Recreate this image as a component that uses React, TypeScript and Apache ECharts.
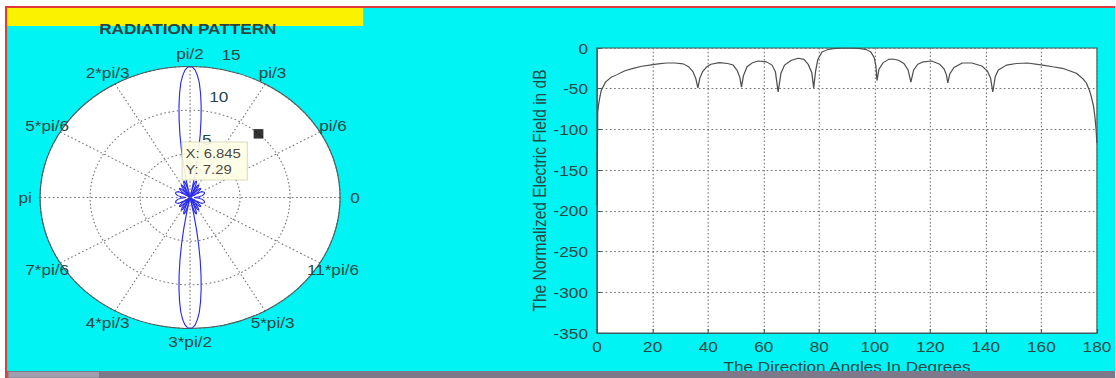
import React, { useEffect, useRef } from "react";
import * as echarts from "echarts";

// ---------- polar plot (radiation pattern) ----------
const angleTicks = [0, 30, 60, 90, 120, 150, 180, 210, 240, 270, 300, 330];
const angleTickLabels = ["0", "pi/6", "pi/3", "pi/2", "2*pi/3", "5*pi/6", "pi", "7*pi/6", "4*pi/3", "3*pi/2", "5*pi/3", "11*pi/6"];
const radiusTicks = [5, 10, 15];

// upper half of the pattern (angle in degrees, radius)
const patternUpperAngles = [
  0, 5, 10, 15, 20, 25, 30, 33, 35, 36, 37, 39, 42, 45, 48, 50, 51.5, 52, 52.5, 54, 56, 59, 62, 64, 65, 66, 68, 70, 72, 74, 76, 77.3, 78,
  79, 80, 81, 82, 83, 84, 85, 86, 87, 88, 89, 90, 91, 92, 93, 94, 95, 96, 97, 98, 99, 100, 101, 102,
  102.7, 104, 106, 108, 110, 112, 114, 115, 116, 118, 121, 124, 126, 127.5, 128, 128.5, 130, 132, 135, 138, 141, 143, 144, 145, 147, 150, 155, 160, 165, 170, 175, 180,
];
const patternUpperRadii = [
  0.4, 0.9, 1.25, 1.45, 1.55, 1.5, 1.3, 0.9, 0.45, 0.05, 0.5, 1.0, 1.4, 1.5, 1.3, 0.8, 0.35, 0.05, 0.35, 0.9, 1.45, 1.7, 1.5, 0.8, 0.05, 0.7, 1.45, 1.9, 2.0, 1.8, 1.2, 0.6, 0.05,
  1.8, 3.7, 5.5, 7.3, 9.0, 10.6, 12.0, 13.2, 14.0, 14.6, 14.9, 15, 14.9, 14.6, 14.0, 13.2, 12.0, 10.6, 9.0, 7.3, 5.5, 3.7, 1.8, 0.05,
  0.6, 1.2, 1.8, 2.0, 1.9, 1.45, 0.7, 0.05, 0.8, 1.5, 1.7, 1.45, 0.9, 0.35, 0.05, 0.35, 0.8, 1.3, 1.5, 1.4, 1.0, 0.5, 0.05, 0.45, 0.9, 1.3, 1.5, 1.55, 1.45, 1.25, 0.9, 0.4,
];
// lower half of the pattern
const patternLowerAngles = [
  185, 190, 195, 200, 205, 210, 213, 215, 216, 217, 219, 222, 225, 228, 230, 231.5, 232, 232.5, 234, 236, 239, 242, 244, 245, 246, 248, 250, 252, 254, 256, 257.3, 258,
  259, 260, 261, 262, 263, 264, 265, 266, 267, 268, 269, 270, 271, 272, 273, 274, 275, 276, 277, 278, 279, 280, 281, 282,
  282.7, 284, 286, 288, 290, 292, 294, 295, 296, 298, 301, 304, 306, 307.5, 308, 308.5, 310, 312, 315, 318, 321, 323, 324, 325, 327, 330, 335, 340, 345, 350, 355, 360,
];
const patternLowerRadii = [
  0.9, 1.25, 1.45, 1.55, 1.5, 1.3, 0.9, 0.45, 0.05, 0.5, 1.0, 1.4, 1.5, 1.3, 0.8, 0.35, 0.05, 0.35, 0.9, 1.45, 1.7, 1.5, 0.8, 0.05, 0.7, 1.45, 1.9, 2.0, 1.8, 1.2, 0.6, 0.05,
  1.8, 3.7, 5.5, 7.3, 9.0, 10.6, 12.0, 13.2, 14.0, 14.6, 14.9, 15, 14.9, 14.6, 14.0, 13.2, 12.0, 10.6, 9.0, 7.3, 5.5, 3.7, 1.8, 0.05,
  0.6, 1.2, 1.8, 2.0, 1.9, 1.45, 0.7, 0.05, 0.8, 1.5, 1.7, 1.45, 0.9, 0.35, 0.05, 0.35, 0.8, 1.3, 1.5, 1.4, 1.0, 0.5, 0.05, 0.45, 0.9, 1.3, 1.5, 1.55, 1.45, 1.25, 0.9, 0.4,
];

// data tip shown on the polar plot
const tipX = 6.845;
const tipY = 7.29;

// ---------- cartesian plot (normalized field in dB) ----------
const fieldAngles = [
  0, 0.2, 0.5, 1, 1.5, 3, 5, 7, 10, 13, 16, 19, 22, 25, 28, 31, 33, 34.5, 35.5, 36.3, 37, 38, 39.5, 41, 44, 47, 49, 50.5, 51.4, 52, 52.7, 54, 56, 58, 61, 63, 64.2, 65.2,
  66.2, 67.5, 70, 72.5, 74.5, 76, 77.3, 78, 78.7, 79.5, 81, 83, 85, 88, 90, 92, 95, 97, 98.6, 99.8, 100.4, 100.8, 101.5, 103, 105, 106.5, 108.5, 110.5, 112, 113, 114,
  115.5, 117.5, 120.5, 123.4, 125, 125.8, 126.3, 127, 128.5, 131.5, 135, 138.5, 140.5, 141.7, 142.5, 143.4, 144.5, 147.4, 151, 155, 160.5, 164, 167.6, 172.6, 175,
  176.2, 177.3, 178, 178.8, 179.3, 179.7, 180,
];
const fieldDb = [
  -193, -80, -70, -60, -52, -42, -36, -33, -28, -25, -22.5, -21, -19.5, -18.5, -18.5, -19.5, -23, -29, -37, -49, -37, -29, -23, -20, -18, -19, -21, -28, -36, -48, -34, -23, -18, -16, -17, -21, -29, -54,
  -31, -21, -15, -12.5, -14, -20, -30, -49, -28, -14, -5, -2, -0.8, -0.1, 0, -0.1, -0.8, -2, -5, -12, -22, -40, -26, -18, -14, -13.5, -15, -19, -27, -42, -27,
  -20, -17, -16, -20, -26, -33, -43, -32, -24, -18.5, -18.5, -22, -28, -37, -54, -35, -27, -21, -19, -18.5, -21, -23, -25, -31, -38,
  -43, -52, -60, -72, -85, -100, -117,
];

const SX = 1.145;
const W = 974;
const H = 378;

export default function App() {
  const ref = useRef<HTMLDivElement>(null);

  useEffect(() => {
    document.body.style.margin = "0";
    document.body.style.overflow = "hidden";
    const chart = echarts.init(ref.current as HTMLDivElement, null, { renderer: "svg" });
    const font = "'Liberation Sans', Arial, Helvetica, sans-serif";
    const textColor = "#244848";
    const axisColor = "#3e5c5c";
    const gridColor = "#767676";
    const dash = [1.5, 2.2];

    const patternData = patternUpperAngles
      .map((a, i) => [patternUpperRadii[i], a])
      .concat(patternLowerAngles.map((a, i) => [patternLowerRadii[i], a]));
    const tipR = Math.hypot(tipX, tipY);
    const tipAngle = (Math.atan2(tipY, tipX) * 180) / Math.PI;

    const staticGraphics: any[] = [
      { id: "wTop", type: "rect", z: 100, shape: { x: 0, y: 0, width: W, height: 6 }, style: { fill: "#ffffff" } },
      { id: "wLeft", type: "rect", z: 100, shape: { x: 0, y: 0, width: 4.4, height: H }, style: { fill: "#ffffff" } },
      { id: "rTop", type: "rect", z: 101, shape: { x: 4.4, y: 6, width: W, height: 2 }, style: { fill: "#e03b3b" } },
      { id: "rLeft", type: "rect", z: 101, shape: { x: 4.4, y: 6, width: 1.8, height: H }, style: { fill: "#e03b3b" } },
      { id: "yellow", type: "rect", z: 100, shape: { x: 6.2, y: 8, width: 311, height: 18 }, style: { fill: "#fbf200" } },
      {
        id: "title", type: "text", z: 102, x: 164, y: 28.5,
        style: { text: "RADIATION PATTERN", fill: "#2a4444", font: `bold 15px ${font}`, textAlign: "center", textVerticalAlign: "middle" },
      },
      { id: "bar", type: "rect", z: 100, shape: { x: 6.2, y: 371, width: W, height: 7 }, style: { fill: "#7d798b" } },
      { id: "thumb", type: "rect", z: 101, shape: { x: 7, y: 371.5, width: 80, height: 6.5 }, style: { fill: "#a19eae", stroke: "#6c6878", lineWidth: 0.6 } },
    ];

    const option: any = {
      animation: false,
      backgroundColor: "#00f4f4",
      polar: { center: [166, 197.5], radius: 131 },
      angleAxis: {
        type: "value", min: 0, max: 360, interval: 30, startAngle: 0, clockwise: false,
        axisLine: { show: true, lineStyle: { color: "#4c5e5e", width: 1 } },
        axisTick: { show: false },
        axisLabel: { show: false },
        splitLine: { show: true, lineStyle: { color: gridColor, type: dash, width: 1 } },
      },
      radiusAxis: {
        type: "value", min: 0, max: 15, interval: 5,
        axisLine: { show: false }, axisTick: { show: false }, axisLabel: { show: false },
        splitLine: { show: true, lineStyle: { color: gridColor, type: dash, width: 1 } },
      },
      grid: {
        left: 521.5, top: 48, width: 436.5, height: 285, show: true, backgroundColor: "#ffffff",
        borderColor: axisColor, borderWidth: 1, containLabel: false, outerBoundsMode: "none",
      },
      xAxis: {
        type: "value", min: 0, max: 180, interval: 20,
        name: "The Direction Angles In Degrees", nameLocation: "middle", nameGap: 26,
        nameTextStyle: { color: textColor, fontSize: 15, fontFamily: font },
        axisLine: { show: true, onZero: false, lineStyle: { color: axisColor } },
        axisTick: { show: true, inside: true, length: 4, lineStyle: { color: axisColor } },
        axisLabel: { color: textColor, fontSize: 15, fontFamily: font, margin: 6 },
        splitLine: { show: true, lineStyle: { color: gridColor, type: dash } },
      },
      yAxis: {
        type: "value", min: -350, max: 0, interval: 50,
        name: "The Normalized Electric Field in dB", nameLocation: "middle", nameGap: 42, nameRotate: 90,
        nameTextStyle: { color: textColor, fontSize: 15.5, fontFamily: font },
        axisLine: { show: true, onZero: false, lineStyle: { color: axisColor } },
        axisTick: { show: true, inside: true, length: 4, lineStyle: { color: axisColor } },
        axisLabel: { color: textColor, fontSize: 15, fontFamily: font, margin: 8 },
        splitLine: { show: true, lineStyle: { color: gridColor, type: dash } },
      },
      series: [
        {
          id: "pattern", type: "line", coordinateSystem: "polar", polarIndex: 0,
          data: patternData, symbol: "none", silent: true, z: 3,
          lineStyle: { color: "#2a2af0", width: 1 },
        },
        {
          id: "tip", type: "scatter", coordinateSystem: "polar", polarIndex: 0, silent: true, z: 6,
          data: [[tipR, tipAngle]], symbol: "rect", symbolSize: [8.5, 9.5],
          itemStyle: { color: "#000000" },
        },
        {
          id: "field", type: "line", xAxisIndex: 0, yAxisIndex: 0,
          data: fieldAngles.map((a, i) => [a, fieldDb[i]]), symbol: "none", silent: true,
          lineStyle: { color: "#505050", width: 1.1 },
        },
      ],
      graphic: staticGraphics,
    };

    chart.setOption(option);

    const toPx = (r: number, a: number) => chart.convertToPixel({ seriesIndex: 0 }, [r, a]) as number[];
    const extra: any[] = [];
    const c0 = toPx(0, 0);
    const cR = toPx(radiusTicks[radiusTicks.length - 1], 0);
    if (c0 && cR && isFinite(c0[0])) {
      extra.push({
        id: "polarBg", type: "circle", z: -10, silent: true,
        shape: { cx: c0[0], cy: c0[1], r: Math.abs(cR[0] - c0[0]) },
        style: { fill: "#ffffff" },
      });
    }
    angleTicks.forEach((a, i) => {
      const p = toPx(16.5, a);
      if (p && isFinite(p[0])) {
        extra.push({
          id: "al" + i, type: "text", z: 50, x: p[0], y: p[1],
          style: { text: angleTickLabels[i], fill: textColor, font: `15px ${font}`, textAlign: "center", textVerticalAlign: "middle" },
        });
      }
    });
    radiusTicks.forEach((r, i) => {
      const p = toPx(r + 1.9, 76);
      if (p && isFinite(p[0])) {
        extra.push({
          id: "rl" + i, type: "text", z: 50, x: p[0], y: p[1],
          style: { text: String(r), fill: textColor, font: `15px ${font}`, textAlign: "center", textVerticalAlign: "middle" },
        });
      }
    });
    const p = chart.convertToPixel({ seriesIndex: 1 }, [tipR, tipAngle]) as number[];
    if (p && isFinite(p[0])) {
      const bx = p[0] - 66.8;
      const by = p[1] + 8.2;
      extra.push(
        { id: "tipBox", type: "rect", z: 110, shape: { x: bx, y: by, width: 57, height: 38 }, style: { fill: "rgba(255,255,228,0.9)", stroke: "rgba(205,205,175,0.7)", lineWidth: 1 } },
        { id: "tipX", type: "text", z: 111, x: bx + 3, y: by + 11.5, style: { text: `X: ${tipX}`, fill: "#4a4a4a", font: `13px ${font}`, textVerticalAlign: "middle" } },
        { id: "tipY", type: "text", z: 111, x: bx + 3, y: by + 27, style: { text: `Y: ${tipY}`, fill: "#4a4a4a", font: `13px ${font}`, textVerticalAlign: "middle" } },
      );
    }
    chart.setOption({ graphic: staticGraphics.concat(extra) });

    return () => chart.dispose();
  }, []);

  return (
    <div style={{ position: "fixed", left: 0, top: 0, width: W, height: H, transform: `scaleX(${SX})`, transformOrigin: "0 0" }}>
      <div ref={ref} style={{ width: W, height: H }} />
    </div>
  );
}
